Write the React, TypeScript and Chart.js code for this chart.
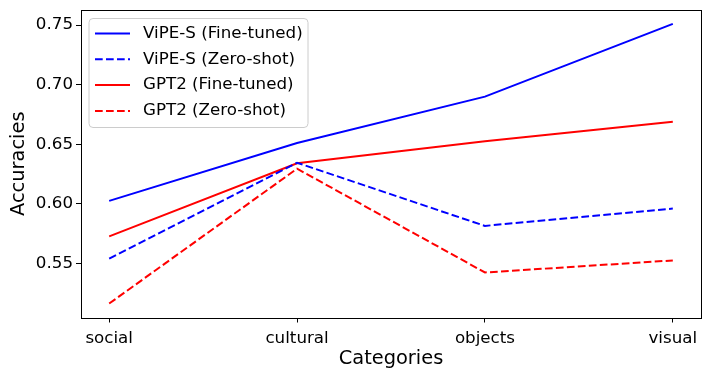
import React, { useEffect, useRef } from "react";
import { Chart, registerables } from "chart.js";

Chart.register(...registerables);

const categories = ["social", "cultural", "objects", "visual"];
const vipeFine = [0.6025, 0.651, 0.690, 0.751];
const vipeZero = [0.554, 0.6345, 0.5815, 0.596];
const gptFine = [0.5727, 0.634, 0.6525, 0.669];
const gptZero = [0.5163, 0.6295, 0.5424, 0.5525];
const yTicks = [0.55, 0.6, 0.65, 0.7, 0.75];
const seriesLabels = ["ViPE-S (Fine-tuned)", "ViPE-S (Zero-shot)", "GPT2 (Fine-tuned)", "GPT2 (Zero-shot)"];

const FONT = "'DejaVu Sans', sans-serif";
const DASH = [7.7, 3.3];

const frameAndLegend = {
  id: "frameAndLegend",
  afterDraw(chart: any) {
    const ctx = chart.ctx;
    const a = chart.chartArea;
    ctx.save();
    ctx.strokeStyle = "#000";
    ctx.lineWidth = 1;
    ctx.strokeRect(Math.round(a.left) + 0.5, Math.round(a.top) + 0.5, Math.round(a.right - a.left), Math.round(a.bottom - a.top));
    // legend
    const bx = a.left + 8, by = a.top + 8.5, bw = 219, bh = 109, r = 4;
    ctx.beginPath();
    ctx.moveTo(bx + r, by);
    ctx.arcTo(bx + bw, by, bx + bw, by + bh, r);
    ctx.arcTo(bx + bw, by + bh, bx, by + bh, r);
    ctx.arcTo(bx, by + bh, bx, by, r);
    ctx.arcTo(bx, by, bx + bw, by, r);
    ctx.closePath();
    ctx.fillStyle = "rgba(255,255,255,0.8)";
    ctx.fill();
    ctx.strokeStyle = "#cccccc";
    ctx.stroke();
    ctx.font = `16.7px ${FONT}`;
    ctx.textBaseline = "middle";
    chart.data.datasets.forEach((ds: any, i: number) => {
      const y = by + 15 + i * 25.8;
      ctx.beginPath();
      ctx.strokeStyle = ds.borderColor;
      ctx.lineWidth = 2;
      ctx.setLineDash(ds.borderDash || []);
      ctx.moveTo(bx + 6, y);
      ctx.lineTo(bx + 41, y);
      ctx.stroke();
      ctx.setLineDash([]);
      ctx.fillStyle = "#000";
      ctx.fillText(ds.label, bx + 54, y);
    });
    ctx.restore();
  },
};

function App() {
  const ref = useRef<HTMLCanvasElement>(null);
  useEffect(() => {
    document.body.style.margin = "0";
    const mk = (vals: number[]) => vals.map((v, i) => ({ x: i, y: v }));
    const chart = new Chart(ref.current!, {
      type: "line",
      data: {
        datasets: [
          { label: seriesLabels[0], data: mk(vipeFine), borderColor: "#0000ff", borderWidth: 2, pointRadius: 0, tension: 0 },
          { label: seriesLabels[1], data: mk(vipeZero), borderColor: "#0000ff", borderWidth: 2, borderDash: DASH, pointRadius: 0, tension: 0 },
          { label: seriesLabels[2], data: mk(gptFine), borderColor: "#ff0000", borderWidth: 2, pointRadius: 0, tension: 0 },
          { label: seriesLabels[3], data: mk(gptZero), borderColor: "#ff0000", borderWidth: 2, borderDash: DASH, pointRadius: 0, tension: 0 },
        ],
      },
      options: {
        animation: false,
        responsive: false,
        devicePixelRatio: 1,
        layout: { padding: { left: 0, top: 10, right: 10, bottom: 0 } },
        plugins: { legend: { display: false }, tooltip: { enabled: false } },
        scales: {
          x: {
            type: "linear",
            min: -0.15,
            max: 3.15,
            afterBuildTicks: (s: any) => { s.ticks = categories.map((_, i) => ({ value: i })); },
            afterFit: (s: any) => { s.height = 62.5; s.paddingLeft = 0; s.paddingRight = 0; },
            ticks: { callback: (v: any) => categories[v], color: "#000", font: { family: FONT, size: 16.7 }, padding: 6, maxRotation: 0, autoSkip: false },
            grid: { drawOnChartArea: false, drawTicks: true, tickLength: 5, color: "#000" },
            border: { display: false },
            title: { display: true, text: "Categories", color: "#000", font: { family: FONT, size: 19.4 }, padding: { top: 0, bottom: 9 } },
          },
          y: {
            type: "linear",
            min: 0.5046,
            max: 0.7627,
            afterBuildTicks: (s: any) => { s.ticks = yTicks.map((v) => ({ value: v })); },
            afterFit: (s: any) => { s.width = 81; s.paddingTop = 0; s.paddingBottom = 0; },
            ticks: { callback: (v: any) => Number(v).toFixed(2), color: "#000", font: { family: FONT, size: 16.7 }, padding: 3 },
            grid: { drawOnChartArea: false, drawTicks: true, tickLength: 5, color: "#000" },
            border: { display: false },
            title: { display: true, text: "Accuracies", color: "#000", font: { family: FONT, size: 19.4 }, padding: { top: 7, bottom: 0 } },
          },
        },
      },
      plugins: [frameAndLegend],
    } as any);
    return () => chart.destroy();
  }, []);
  return <canvas ref={ref} width={711} height={380} style={{ display: "block" }} />;
}

export default App;
